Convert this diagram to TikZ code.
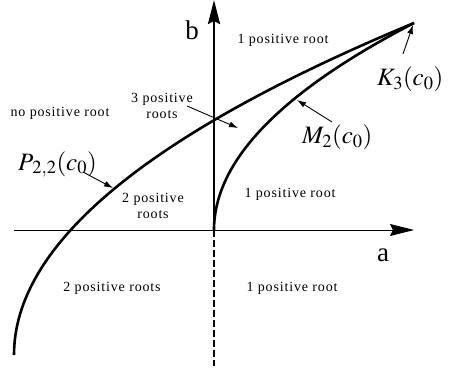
\documentclass[tikz,border=0pt]{standalone}
\usepackage{mathptmx}
\usepackage{fontspec}
\setmainfont{Liberation Serif}
\newfontfamily\regionfont[LetterSpace=6]{Liberation Serif}
\usetikzlibrary{arrows.meta}

\begin{document}
\begin{tikzpicture}[x=1pt, y=-1pt,
  region/.style={font=\fontsize{14}{16}\regionfont, align=center, inner sep=0pt},
  curvelabel/.style={font=\fontsize{25}{27}\selectfont, inner sep=0pt, anchor=base west},
  axislabel/.style={font=\fontsize{27}{29}\selectfont, inner sep=0pt},
  boundary/.style={line width=2.6pt},
  pointer/.style={line width=0.9pt, -{Latex[length=9pt,width=6pt]}},
  axisarrow/.style={-{Stealth[length=24pt,width=12pt,inset=3pt]}}
]
\useasboundingbox (0,0) rectangle (449,374);

% axes
\coordinate (O) at (214,230);
\coordinate (aleft) at (14,230);
\coordinate (aright) at (414,230);
\coordinate (btop) at (214,0);
\coordinate (bbottom) at (214,366);
\draw[axisarrow, line width=1pt] (aleft) -- (aright);
\draw[axisarrow, line width=2.6pt] (O) -- (btop);
\draw[line width=2.6pt, dash pattern=on 7pt off 3pt] (O) -- (bbottom);
\node[axislabel] (alab) at (383,255) {a};
\node[axislabel] (blab) at (192,30) {b};

% boundary curves
\coordinate (Pstart) at (14,355);
\coordinate (K) at (414,23);
\draw[boundary] (Pstart) .. controls (14,244.3) and (147.3,133.7) .. (K);
\draw[boundary] (O) .. controls (214,161) and (280.7,92) .. (K);

% regions
\node[region] (r1top) at (283,40) {1 positive root};
\node[region] (r0) at (60,113) {no positive root};
\node[region] (r3) at (162,106) {3 positive\\roots};
\node[region] (r2top) at (153,206) {2 positive\\roots};
\node[region] (r1mid) at (290,194) {1 positive root};
\node[region] (r2low) at (112,288) {2 positive roots};
\node[region] (r1low) at (292,288) {1 positive root};

% curve labels
\node[curvelabel] (Plab) at (18,170) {$P_{\mkern2mu 2,2}(c_0)$};
\node[curvelabel] (Mlab) at (302,144) {$M_2(c_0)$};
\node[curvelabel] (Klab) at (377,86) {$K_3(c_0)$};

% pointers
\coordinate (r3tail) at (187,106);
\coordinate (r3tip) at (238,128);
\coordinate (Ptail) at (83,172);
\coordinate (Ptip) at (113,188);
\coordinate (Mtail) at (332,122);
\coordinate (Mtip) at (297,100);
\coordinate (Ktail) at (403,54);
\coordinate (Ktip) at (413,25);
\draw[pointer] (r3tail) -- (r3tip);
\draw[pointer] (Ptail) -- (Ptip);
\draw[pointer] (Mtail) -- (Mtip);
\draw[pointer] (Ktail) -- (Ktip);
\end{tikzpicture}
\end{document}
